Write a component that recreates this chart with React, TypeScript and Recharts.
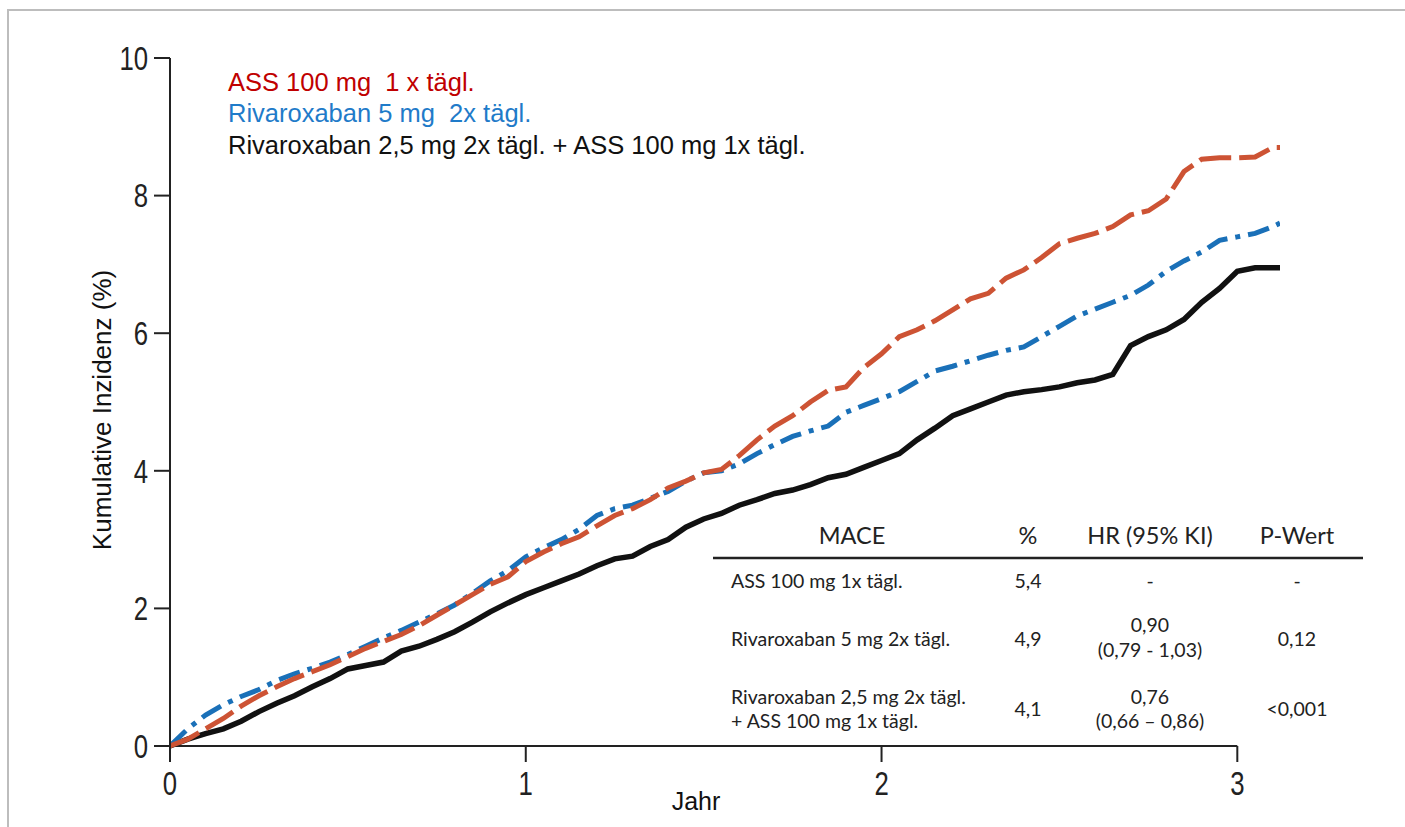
import React from 'react';
import { LineChart, Line, XAxis, YAxis, ReferenceLine } from 'recharts';

// Jahre (x) – gemeinsames Raster für alle drei Kurven
const jahre = [
  0, 0.05, 0.1, 0.15, 0.2, 0.25, 0.3, 0.35, 0.4, 0.45,
  0.5, 0.55, 0.6, 0.65, 0.7, 0.75, 0.8, 0.85, 0.9, 0.95,
  1, 1.05, 1.1, 1.15, 1.2, 1.25, 1.3, 1.35, 1.4, 1.45,
  1.5, 1.55, 1.6, 1.65, 1.7, 1.75, 1.8, 1.85, 1.9, 1.95,
  2, 2.05, 2.1, 2.15, 2.2, 2.25, 2.3, 2.35, 2.4, 2.45,
  2.5, 2.55, 2.6, 2.65, 2.7, 2.75, 2.8, 2.85, 2.9, 2.95,
  3, 3.05, 3.1, 3.12
];

// ASS 100 mg 1x tägl.
const assWerte = [
  0, 0.1, 0.25, 0.4, 0.58, 0.73, 0.86, 0.98, 1.08, 1.18,
  1.3, 1.42, 1.52, 1.62, 1.75, 1.9, 2.05, 2.2, 2.35, 2.46,
  2.68, 2.82, 2.94, 3.04, 3.2, 3.35, 3.45, 3.58, 3.75, 3.85,
  3.97, 4.02, 4.22, 4.45, 4.65, 4.8, 5.0, 5.17, 5.22, 5.5,
  5.7, 5.95, 6.05, 6.18, 6.34, 6.5, 6.58, 6.8, 6.92, 7.1,
  7.3, 7.38, 7.45, 7.55, 7.72, 7.78, 7.95, 8.35, 8.53, 8.55,
  8.55, 8.56, 8.7, 8.7
];

// Rivaroxaban 5 mg 2x tägl.
const riva5Werte = [
  0, 0.25, 0.45, 0.6, 0.72, 0.82, 0.95, 1.05, 1.13, 1.22,
  1.33, 1.45, 1.57, 1.68, 1.8, 1.92, 2.05, 2.22, 2.4, 2.55,
  2.75, 2.88, 3.0, 3.15, 3.35, 3.45, 3.5, 3.6, 3.7, 3.85,
  3.97, 4.0, 4.1, 4.25, 4.38, 4.5, 4.58, 4.65, 4.85, 4.95,
  5.05, 5.15, 5.3, 5.45, 5.52, 5.6, 5.68, 5.75, 5.8, 5.95,
  6.1, 6.25, 6.35, 6.45, 6.55, 6.7, 6.9, 7.05, 7.18, 7.35,
  7.4, 7.45, 7.55, 7.6
];

// Rivaroxaban 2,5 mg 2x tägl. + ASS 100 mg 1x tägl.
const kombiWerte = [
  0, 0.1, 0.18, 0.25, 0.36, 0.5, 0.62, 0.73, 0.86, 0.98,
  1.12, 1.17, 1.22, 1.38, 1.45, 1.55, 1.66, 1.8, 1.95, 2.08,
  2.2, 2.3, 2.4, 2.5, 2.62, 2.72, 2.76, 2.9, 3.0, 3.18,
  3.3, 3.38, 3.5, 3.58, 3.67, 3.72, 3.8, 3.9, 3.95, 4.05,
  4.15, 4.25, 4.45, 4.62, 4.8, 4.9, 5.0, 5.1, 5.15, 5.18,
  5.22, 5.28, 5.32, 5.4, 5.82, 5.95, 6.05, 6.2, 6.45, 6.65,
  6.9, 6.95, 6.95, 6.95
];

const xTicks = [0, 1, 2, 3];
const yTicks = [0, 2, 4, 6, 8, 10];

const legendeTexte = [
  { text: 'ASS 100 mg  1 x tägl.', color: '#C00000' },
  { text: 'Rivaroxaban 5 mg  2x tägl.', color: '#1F7BC9' },
  { text: 'Rivaroxaban 2,5 mg 2x tägl. + ASS 100 mg 1x tägl.', color: '#111111' }
];

const tabelleKopf = ['MACE', '%', 'HR (95% KI)', 'P-Wert'];
const tabelleZeilen = [
  { name: ['ASS 100 mg 1x tägl.'], prozent: '5,4', hr: ['-'], p: '-' },
  { name: ['Rivaroxaban 5 mg 2x tägl.'], prozent: '4,9', hr: ['0,90', '(0,79 - 1,03)'], p: '0,12' },
  { name: ['Rivaroxaban 2,5 mg 2x tägl.', '+ ASS 100 mg 1x tägl.'], prozent: '4,1', hr: ['0,76', '(0,66 – 0,86)'], p: '<0,001' }
];

const toSeries = (werte: number[]) => jahre.map((x, i) => ({ x, y: werte[i] }));
const assData = toSeries(assWerte);
const riva5Data = toSeries(riva5Werte);
const kombiData = toSeries(kombiWerte);

const textFont = "'Liberation Sans', Arial, sans-serif";
const tableFont = "Lato, 'Open Sans', sans-serif";

// Zeilenlage der Tabelle (Grundlinien)
const rowBase = [
  { name: [588], single: 588, hr: [588] },
  { name: [646], single: 646, hr: [632, 657] },
  { name: [704, 728], single: 716, hr: [704, 728] }
];
const colX = { name: 731, prozent: 1028, hr: 1150, p: 1297, mace: 852 };

// schmale Achsenziffern
const NarrowTick = ({ x, y, payload, textAnchor, dy }: any) => (
  <g transform={`translate(${x},${y}) scale(0.78,1)`}>
    <text
      x={0}
      y={0}
      dy={dy}
      textAnchor={textAnchor}
      fill="#222"
      fontSize={33}
      fontFamily={textFont}
    >
      {payload.value}
    </text>
  </g>
);

const XTick = (props: any) => <NarrowTick {...props} textAnchor="middle" dy="0.71em" />;
const YTick = (props: any) => <NarrowTick {...props} textAnchor="end" dy="0.355em" />;

export default function App() {
  return (
    <div style={{ position: 'absolute', left: 0, top: 0, width: 1405, height: 827, background: '#fff', overflow: 'hidden' }}>
      <div style={{ position: 'absolute', left: 7, top: 9, width: 1405, height: 827, borderLeft: '2px solid #BDBDBD', borderTop: '2px solid #BDBDBD' }} />
      <div style={{ position: 'absolute', left: 0, top: 0 }}>
        <LineChart width={1405} height={827} margin={{ top: 58, right: 125, bottom: 0, left: 0 }}>
          <XAxis
            type="number"
            dataKey="x"
            domain={[0, 3.12]}
            ticks={xTicks}
            allowDataOverflow
            axisLine={false}
            tickLine={{ stroke: '#222', strokeWidth: 2 }}
            tickSize={16}
            tickMargin={10}
            tick={<XTick />}
            height={81}
          />
          <YAxis
            type="number"
            domain={[0, 10]}
            ticks={yTicks}
            axisLine={{ stroke: '#222', strokeWidth: 2 }}
            tickLine={{ stroke: '#222', strokeWidth: 2 }}
            tickSize={16}
            tickMargin={6}
            tick={<YTick />}
            width={170}
          />
          <ReferenceLine segment={[{ x: 0, y: 0 }, { x: 3, y: 0 }]} stroke="#222" strokeWidth={2} />

          <Line data={kombiData} dataKey="y" type="linear" stroke="#111" strokeWidth={5.5} dot={false} isAnimationActive={false} />
          <Line data={riva5Data} dataKey="y" type="linear" stroke="#1A70B8" strokeWidth={5} strokeDasharray="22 8 5 8" dot={false} isAnimationActive={false} />
          <Line data={assData} dataKey="y" type="linear" stroke="#CD5334" strokeWidth={5} strokeDasharray="32 8" dot={false} isAnimationActive={false} />
        </LineChart>
      </div>

      <svg width={1405} height={827} style={{ position: 'absolute', left: 0, top: 0, pointerEvents: 'none' }}>
        {legendeTexte.map((l, i) => (
          <text
            key={l.text}
            x={228}
            y={90.7 + i * 31.7}
            fill={l.color}
            fontSize={25.5}
            fontFamily={textFont}
            style={{ whiteSpace: 'pre' }}
          >
            {l.text}
          </text>
        ))}

        <text
          x={102}
          y={410}
          transform="rotate(-90 102 410)"
          textAnchor="middle"
          dominantBaseline="central"
          fontSize={26}
          fontFamily={textFont}
          fill="#111"
        >
          Kumulative Inzidenz (%)
        </text>
        <text x={696} y={810} textAnchor="middle" fontSize={25} fontFamily={textFont} fill="#111">
          Jahr
        </text>

        {/* Tabelle */}
        <g fontFamily={tableFont} fill="#222">
          <text x={colX.mace} y={544} textAnchor="middle" fontSize={23.5}>{tabelleKopf[0]}</text>
          <text x={colX.prozent} y={544} textAnchor="middle" fontSize={23.5}>{tabelleKopf[1]}</text>
          <text x={colX.hr} y={544} textAnchor="middle" fontSize={23.5}>{tabelleKopf[2]}</text>
          <text x={colX.p} y={544} textAnchor="middle" fontSize={23.5}>{tabelleKopf[3]}</text>
          <line x1={713} x2={1363} y1={558} y2={558} stroke="#222" strokeWidth={2.5} />
          {tabelleZeilen.map((r, i) => (
            <g key={i} fontSize={19.5}>
              {r.name.map((n, j) => (
                <text key={n} x={colX.name} y={rowBase[i].name[j]}>{n}</text>
              ))}
              <text x={colX.prozent} y={rowBase[i].single} textAnchor="middle">{r.prozent}</text>
              {r.hr.map((h, j) => (
                <text key={h} x={colX.hr} y={rowBase[i].hr[j]} textAnchor="middle">{h}</text>
              ))}
              <text x={colX.p} y={rowBase[i].single} textAnchor="middle">{r.p}</text>
            </g>
          ))}
        </g>
      </svg>
    </div>
  );
}
